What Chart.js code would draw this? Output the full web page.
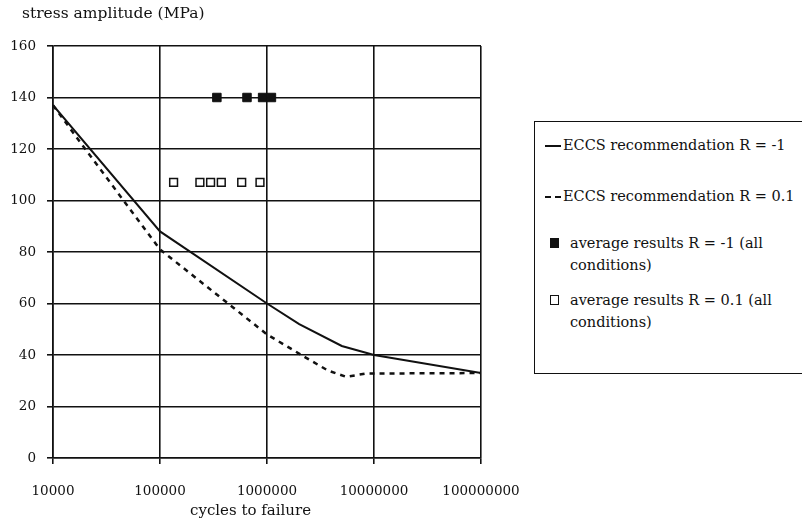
<!DOCTYPE html>
<html>
<head>
<meta charset="utf-8">
<script src="https://cdn.jsdelivr.net/npm/chart.js@4/dist/chart.umd.min.js"></script>
<style>
    body { margin: 0; background: #fff; font-family: 'DejaVu Serif', serif; color: #111; }
    #wrap { position: relative; width: 802px; height: 524px; overflow: hidden; }
    #chartBox { position: absolute; left: 0; top: 0; width: 520px; height: 524px; }
    #yTitle { position: absolute; left: 22px; top: 4px; font-size: 15.5px; line-height: 19px; }
    #xTitle { position: absolute; left: 190px; top: 501px; font-size: 15px; line-height: 19px; }
    #legend {
        position: absolute; left: 534px; top: 121px; width: 300px; height: 253px;
        border: 1.5px solid #111; box-sizing: border-box; font-size: 14.5px;
    }
    .txt { position: absolute; line-height: 22px; white-space: nowrap; }
    .mk { position: absolute; box-sizing: border-box; }
    .line { width: 16px; height: 0; border-top: 2px solid #111; }
    .dash { width: 16px; height: 0; border-top: 2px dashed #111; }
    .sq { width: 9px; height: 10px; border: 1.5px solid #111; }
    .sq.fill { background: #111; }
</style>
</head>
<body>
<div id="wrap">
    <div id="chartBox"><canvas id="fatigueChart"></canvas></div>
    <div id="yTitle">stress amplitude (MPa)</div>
    <div id="xTitle">cycles to failure</div>
    <div id="legend"></div>
</div>
<script>
// decade ticks on the cycles axis
const xTicks = [10000, 100000, 1000000, 10000000, 100000000];

// ECCS recommendation curves
const eccsM1Cycles = [10000, 100000, 1000000, 2000000, 5000000, 10000000, 100000000];
const eccsM1Stress = [137, 88, 60, 52, 43.5, 40, 33];

const eccs01Cycles = [10000, 20000, 100000, 1000000, 2300000, 3700000, 5500000, 8400000, 10000000, 100000000];
const eccs01Stress = [137, 120, 81, 48, 39, 34, 31.5, 32.8, 32.8, 33];

// average test results
const avgM1Cycles = [340000, 650000, 910000, 1100000];
const avgM1Stress = [140, 140, 140, 140];

const avg01Cycles = [134000, 236000, 297000, 374000, 580000, 860000];
const avg01Stress = [107, 107, 107, 107, 107, 107];

const seriesLabels = [
    'ECCS recommendation R = -1',
    'ECCS recommendation R = 0.1',
    'average results R = -1 (all conditions)',
    'average results R = 0.1 (all conditions)'
];

function toPoints(xs, ys) {
    return xs.map((x, i) => ({ x: x, y: ys[i] }));
}

const ink = '#111';
const tickFont = { family: "'DejaVu Serif', serif", size: 13.5 };

const ctx = document.getElementById('fatigueChart').getContext('2d');
const fatigueChart = new Chart(ctx, {
    type: 'scatter',
    data: {
        datasets: [
            {
                label: seriesLabels[0],
                data: toPoints(eccsM1Cycles, eccsM1Stress),
                showLine: true,
                borderColor: ink,
                borderWidth: 2,
                pointRadius: 0
            },
            {
                label: seriesLabels[1],
                data: toPoints(eccs01Cycles, eccs01Stress),
                showLine: true,
                borderColor: ink,
                borderWidth: 2.5,
                borderDash: [5, 5],
                pointRadius: 0
            },
            {
                label: seriesLabels[2],
                data: toPoints(avgM1Cycles, avgM1Stress),
                pointStyle: 'rect',
                pointRadius: 6,
                backgroundColor: ink,
                borderColor: ink,
                borderWidth: 1
            },
            {
                label: seriesLabels[3],
                data: toPoints(avg01Cycles, avg01Stress),
                pointStyle: 'rect',
                pointRadius: 5.5,
                backgroundColor: '#fff',
                borderColor: ink,
                borderWidth: 1.5
            }
        ]
    },
    options: {
        responsive: true,
        maintainAspectRatio: false,
        animation: false,
        layout: {
            padding: { left: 11, right: 39, top: 46, bottom: 0 }
        },
        scales: {
            x: {
                type: 'logarithmic',
                min: 10000,
                max: 100000000,
                afterBuildTicks: function(axis) {
                    axis.ticks = xTicks.map(v => ({ value: v }));
                },
                // pin the axis box so the plot edges land where the layout puts them
                afterFit: function(scale) {
                    scale.height = 66;
                    scale.paddingLeft = 0;
                    scale.paddingRight = 0;
                },
                border: { color: ink, width: 1.6 },
                grid: { color: ink, lineWidth: 1.6, tickLength: 6 },
                ticks: {
                    color: ink,
                    font: tickFont,
                    padding: 19,
                    maxRotation: 0,
                    callback: function(value) {
                        return String(value);
                    }
                }
            },
            y: {
                min: 0,
                max: 160,
                afterFit: function(scale) {
                    scale.width = 42;
                    scale.paddingTop = 0;
                    scale.paddingBottom = 0;
                },
                border: { color: ink, width: 1.6 },
                grid: { color: ink, lineWidth: 1.6, tickLength: 6 },
                ticks: {
                    stepSize: 20,
                    color: ink,
                    font: tickFont,
                    padding: 11
                }
            }
        },
        plugins: {
            legend: { display: false },
            tooltip: { enabled: false }
        }
    }
});

// legend box drawn as html next to the chart
const legendEl = document.getElementById('legend');
const legendRows = [
    { mark: 'line', mx: 10, my: 23, tx: 28, ty: 12, lines: [seriesLabels[0]] },
    { mark: 'dash', mx: 10, my: 74, tx: 28, ty: 63, lines: [seriesLabels[1]] },
    { mark: 'sq fill', mx: 15, my: 116, tx: 35, ty: 110, lines: ['average results R = -1 (all', 'conditions)'] },
    { mark: 'sq', mx: 15, my: 173, tx: 35, ty: 167, lines: ['average results R = 0.1 (all', 'conditions)'] }
];
legendRows.forEach(row => {
    const mark = document.createElement('div');
    mark.className = 'mk ' + row.mark;
    mark.style.left = row.mx + 'px';
    mark.style.top = row.my + 'px';
    const txt = document.createElement('div');
    txt.className = 'txt';
    txt.style.left = row.tx + 'px';
    txt.style.top = row.ty + 'px';
    txt.innerHTML = row.lines.join('<br>');
    legendEl.appendChild(mark);
    legendEl.appendChild(txt);
});
</script>
</body>
</html>
